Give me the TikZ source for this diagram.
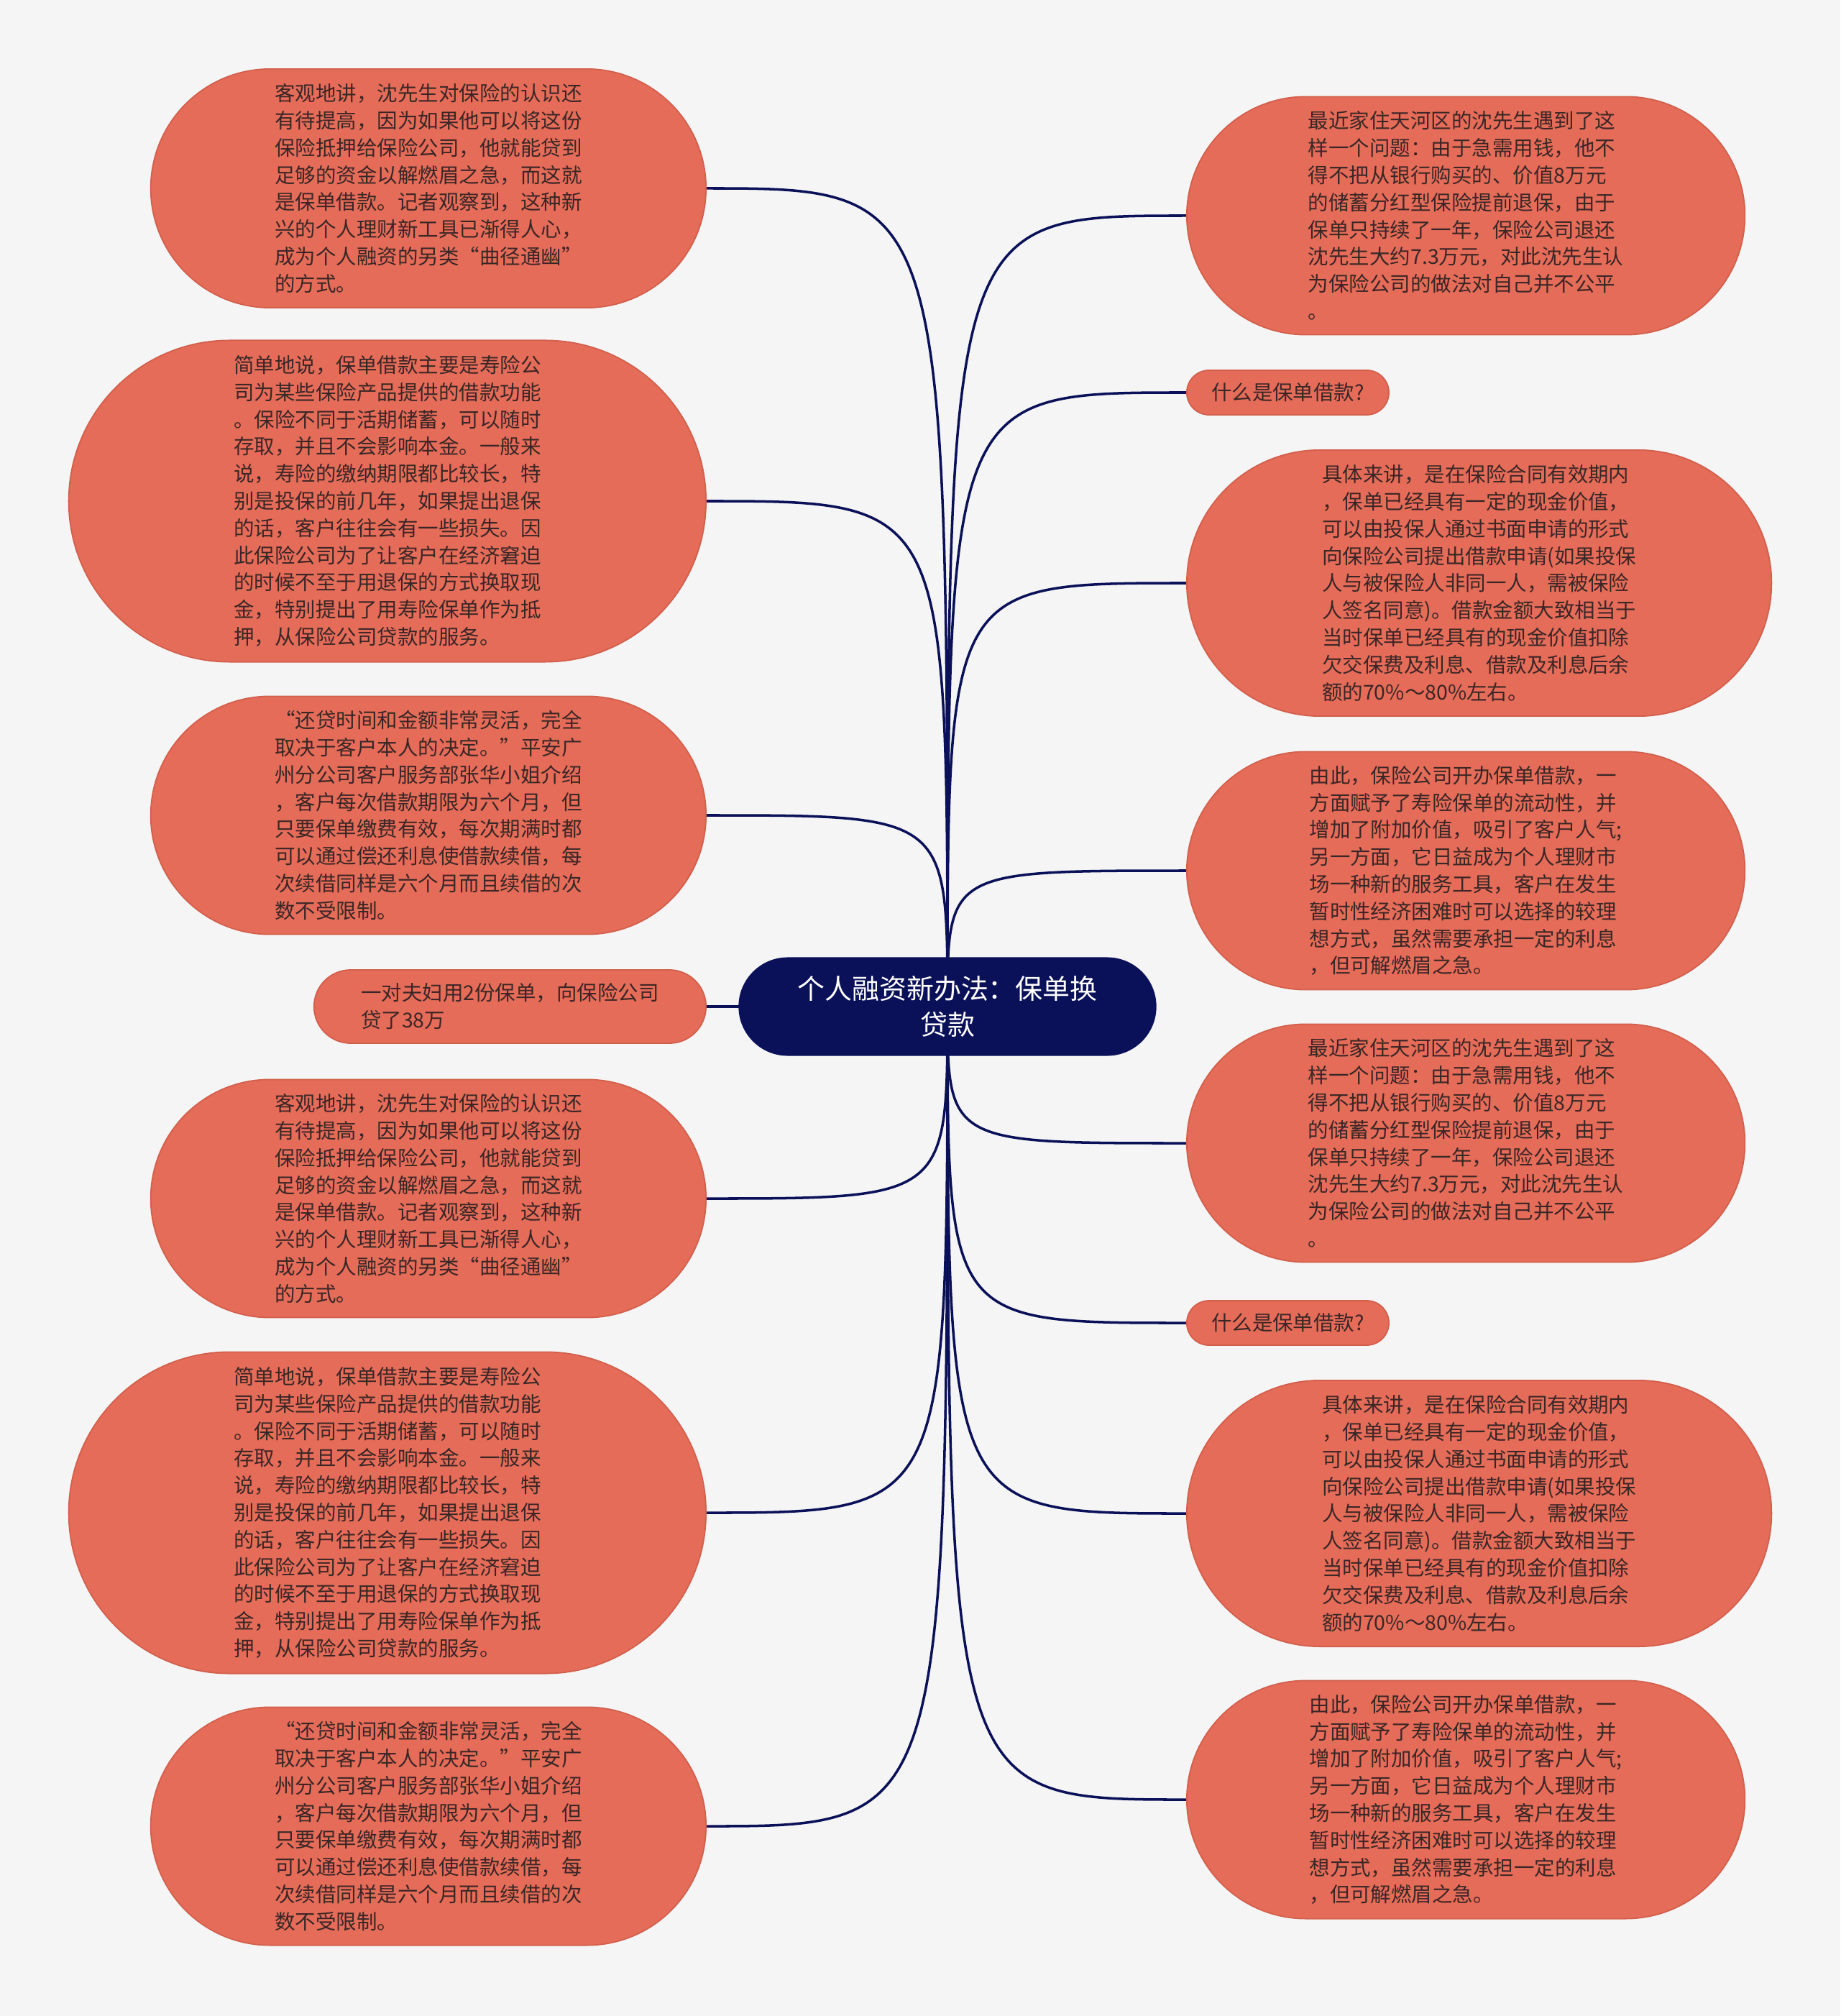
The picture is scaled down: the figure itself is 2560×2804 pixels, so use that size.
\documentclass[tikz,border=0pt]{standalone}
\usepackage{fontspec}
\setmainfont{Noto Sans CJK SC}
\usepackage{tikz}
\usetikzlibrary{positioning}
\usetikzlibrary{shapes.misc}
\usetikzlibrary{backgrounds}

\definecolor{paper}{HTML}{F5F5F5}
\definecolor{leaffill}{HTML}{E46C58}
\definecolor{leafline}{HTML}{D25F4C}
\definecolor{leaftext}{HTML}{3A2626}
\definecolor{navy}{HTML}{0B1159}

\newcommand{\kgText}{客观地讲，沈先生对保险的认识还\\有待提高，因为如果他可以将这份\\保险抵押给保险公司，他就能贷到\\足够的资金以解燃眉之急，而这就\\是保单借款。记者观察到，这种新\\兴的个人理财新工具已渐得人心，\\成为个人融资的另类“曲径通幽”\\的方式。}
\newcommand{\jdText}{简单地说，保单借款主要是寿险公\\司为某些保险产品提供的借款功能\\。保险不同于活期储蓄，可以随时\\存取，并且不会影响本金。一般来\\说，寿险的缴纳期限都比较长，特\\别是投保的前几年，如果提出退保\\的话，客户往往会有一些损失。因\\此保险公司为了让客户在经济窘迫\\的时候不至于用退保的方式换取现\\金，特别提出了用寿险保单作为抵\\押，从保险公司贷款的服务。}
\newcommand{\hdText}{“还贷时间和金额非常灵活，完全\\取决于客户本人的决定。”平安广\\州分公司客户服务部张华小姐介绍\\，客户每次借款期限为六个月，但\\只要保单缴费有效，每次期满时都\\可以通过偿还利息使借款续借，每\\次续借同样是六个月而且续借的次\\数不受限制。}
\newcommand{\zjText}{最近家住天河区的沈先生遇到了这\\样一个问题：由于急需用钱，他不\\得不把从银行购买的、价值8万元\\的储蓄分红型保险提前退保，由于\\保单只持续了一年，保险公司退还\\沈先生大约7.3万元，对此沈先生认\\为保险公司的做法对自己并不公平\\。}
\newcommand{\jtText}{具体来讲，是在保险合同有效期内\\，保单已经具有一定的现金价值，\\可以由投保人通过书面申请的形式\\向保险公司提出借款申请(如果投保\\人与被保险人非同一人，需被保险\\人签名同意)。借款金额大致相当于\\当时保单已经具有的现金价值扣除\\欠交保费及利息、借款及利息后余\\额的70\%～80\%左右。}
\newcommand{\ycText}{由此，保险公司开办保单借款，一\\方面赋予了寿险保单的流动性，并\\增加了附加价值，吸引了客户人气;\\另一方面，它日益成为个人理财市\\场一种新的服务工具，客户在发生\\暂时性经济困难时可以选择的较理\\想方式，虽然需要承担一定的利息\\，但可解燃眉之急。}

\begin{document}
\begin{tikzpicture}[x=0.01cm, y=-0.01cm,
    leaf/.style={rounded rectangle, fill=leaffill, draw=leafline, line width=0.5pt, text=leaftext, inner sep=0pt, align=left, font=\fontsize{8.1pt}{10.75pt}\selectfont},
    root/.style={rounded rectangle, fill=navy, text=white, inner sep=0pt, align=center, minimum width=5.81cm, minimum height=1.37cm, font=\fontsize{10.8pt}{14.3pt}\selectfont},
    link/.style={draw=navy, line width=1pt}]

    \useasboundingbox (0,0) rectangle (2560,2804);

    \node[root] (root) at (1318,1400) {个人融资新办法：保单换\\贷款};

    \node[leaf, minimum width=7.72cm, minimum height=3.32cm, anchor=east] (l1) at (983,262) {\kgText};
    \node[leaf, minimum width=8.86cm, minimum height=4.47cm, anchor=east] (l2) at (983,697) {\jdText};
    \node[leaf, minimum width=7.72cm, minimum height=3.31cm, anchor=east] (l3) at (983,1134) {\hdText};
    \node[leaf, minimum width=5.45cm, minimum height=1.02cm, anchor=east] (l4) at (983,1400) {一对夫妇用2份保单，向保险公司\\贷了38万};
    \node[leaf, minimum width=7.72cm, minimum height=3.31cm, anchor=east] (l5) at (983,1667) {\kgText};
    \node[leaf, minimum width=8.86cm, minimum height=4.47cm, anchor=east] (l6) at (983,2104) {\jdText};
    \node[leaf, minimum width=7.72cm, minimum height=3.31cm, anchor=east] (l7) at (983,2540) {\hdText};

    \node[leaf, minimum width=7.76cm, minimum height=3.31cm, anchor=west] (r1) at (1650,300) {\zjText};
    \node[leaf, minimum width=2.81cm, minimum height=0.62cm, anchor=west] (r2) at (1650,546) {什么是保单借款?};
    \node[leaf, minimum width=8.13cm, minimum height=3.70cm, anchor=west] (r3) at (1650,811) {\jtText};
    \node[leaf, minimum width=7.76cm, minimum height=3.31cm, anchor=west] (r4) at (1650,1211) {\ycText};
    \node[leaf, minimum width=7.76cm, minimum height=3.31cm, anchor=west] (r5) at (1650,1590) {\zjText};
    \node[leaf, minimum width=2.81cm, minimum height=0.62cm, anchor=west] (r6) at (1650,1840) {什么是保单借款?};
    \node[leaf, minimum width=8.13cm, minimum height=3.70cm, anchor=west] (r7) at (1650,2105) {\jtText};
    \node[leaf, minimum width=7.76cm, minimum height=3.31cm, anchor=west] (r8) at (1650,2503) {\ycText};

    \begin{scope}[on background layer]
        \fill[paper] (0,0) rectangle (2560,2804);
        \draw[link] (root.center) .. controls (root.center |- l1.east) and (root.center |- l1.east) .. (l1.east);
        \draw[link] (root.center) .. controls (root.center |- l2.east) and (root.center |- l2.east) .. (l2.east);
        \draw[link] (root.center) .. controls (root.center |- l3.east) and (root.center |- l3.east) .. (l3.east);
        \draw[link] (root.center) -- (l4.east);
        \draw[link] (root.center) .. controls (root.center |- l5.east) and (root.center |- l5.east) .. (l5.east);
        \draw[link] (root.center) .. controls (root.center |- l6.east) and (root.center |- l6.east) .. (l6.east);
        \draw[link] (root.center) .. controls (root.center |- l7.east) and (root.center |- l7.east) .. (l7.east);
        \draw[link] (root.center) .. controls (root.center |- r1.west) and (root.center |- r1.west) .. (r1.west);
        \draw[link] (root.center) .. controls (root.center |- r2.west) and (root.center |- r2.west) .. (r2.west);
        \draw[link] (root.center) .. controls (root.center |- r3.west) and (root.center |- r3.west) .. (r3.west);
        \draw[link] (root.center) .. controls (root.center |- r4.west) and (root.center |- r4.west) .. (r4.west);
        \draw[link] (root.center) .. controls (root.center |- r5.west) and (root.center |- r5.west) .. (r5.west);
        \draw[link] (root.center) .. controls (root.center |- r6.west) and (root.center |- r6.west) .. (r6.west);
        \draw[link] (root.center) .. controls (root.center |- r7.west) and (root.center |- r7.west) .. (r7.west);
        \draw[link] (root.center) .. controls (root.center |- r8.west) and (root.center |- r8.west) .. (r8.west);
    \end{scope}
\end{tikzpicture}
\end{document}
